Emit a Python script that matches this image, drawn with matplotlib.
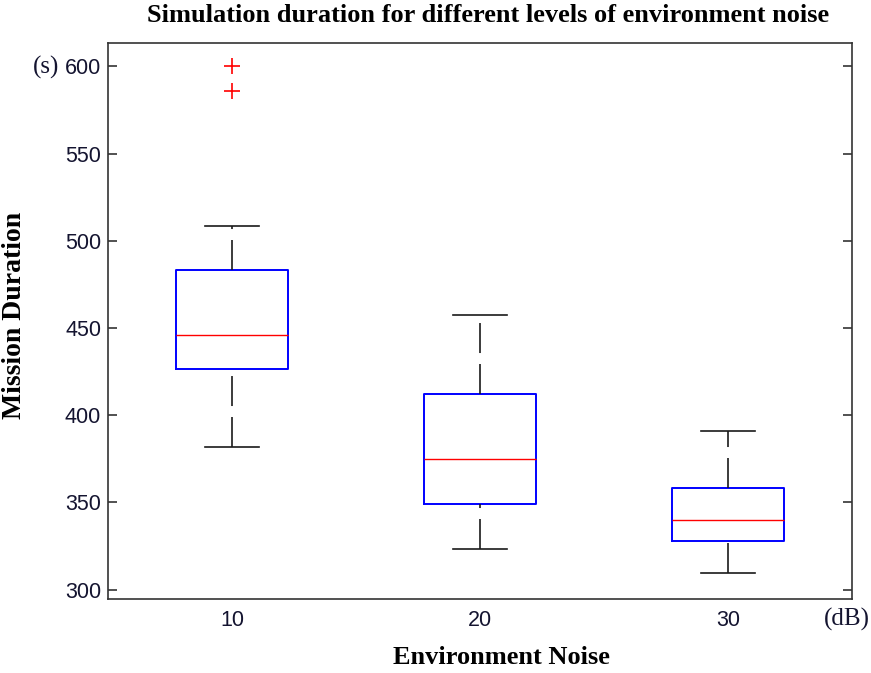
import matplotlib
matplotlib.use("Agg")
import matplotlib.pyplot as plt

# Noise levels (dB) and the per-level box statistics of mission duration (s)
noise_levels = ["10", "20", "30"]
q1 = [426.2, 348.8, 327.8]
medians = [445.7, 375.0, 339.8]
q3 = [483.1, 412.2, 358.2]
whisker_low = [381.8, 323.0, 309.3]
whisker_high = [508.3, 457.3, 390.8]
outliers = [[600.0, 585.7], [], []]

plt.rcParams["lines.scale_dashes"] = False
text_color = "#141430"
serif = ["Liberation Serif", "DejaVu Serif"]
sans = ["Liberation Sans", "DejaVu Sans"]

fig = plt.figure(figsize=(8.71, 6.73), dpi=100)
ax = fig.add_axes([108 / 871, 1 - 599 / 673, (852 - 108) / 871, (599 - 43) / 673])

stats = []
for i, name in enumerate(noise_levels):
    stats.append({
        "label": name,
        "q1": q1[i],
        "med": medians[i],
        "q3": q3[i],
        "whislo": whisker_low[i],
        "whishi": whisker_high[i],
        "fliers": outliers[i],
    })

bp = ax.bxp(
    stats,
    positions=[1, 2, 3],
    widths=0.45,
    capwidths=0.22,
    boxprops=dict(color="#0000ff", linewidth=1.4),
    medianprops=dict(color="#ff0000", linewidth=1.0),
    whiskerprops=dict(color="#1a1a1a", linewidth=1.2, linestyle=(0, (21.6, 7.9))),
    capprops=dict(color="#1a1a1a", linewidth=1.2),
    flierprops=dict(marker="+", markeredgecolor="#ff0000", markersize=11,
                    markeredgewidth=1.2, linestyle="none"),
)
# dash pattern runs upward from the lower end of each whisker
for w in bp["whiskers"][::2]:
    x, y = w.get_data()
    w.set_data(list(x)[::-1], list(y)[::-1])

ax.set_xlim(0.5, 3.5)
ax.set_ylim(294.6, 613.4)
ax.set_yticks([300, 350, 400, 450, 500, 550, 600])
ax.set_xticks([1, 2, 3])
ax.set_xticklabels(noise_levels)

for sp in ax.spines.values():
    sp.set_color("#333333")
    sp.set_linewidth(1.2)

ax.tick_params(axis="y", which="both", direction="in", length=6.5, width=1.2,
               color="#333333", left=True, right=True, labelsize=15.5,
               labelcolor=text_color, pad=5)
ax.tick_params(axis="x", length=0, labelsize=15.5, labelcolor=text_color, pad=8)
for lab in ax.get_xticklabels() + ax.get_yticklabels():
    lab.set_fontfamily(sans)

fig.text(488 / 871, 1 - 16 / 673,
         "Simulation duration for different levels of environment noise",
         ha="center", va="center", fontsize=19, fontweight="bold",
         family=serif, color="#000000")
fig.text(501 / 871, 1 - 658 / 673, "Environment Noise", ha="center", va="center",
         fontsize=19, fontweight="bold", family=serif, color="#000000")
fig.text(15 / 871, 1 - 315 / 673, "Mission Duration", ha="center", va="center",
         rotation=90, fontsize=20, fontweight="bold", family=serif, color="#000000")
fig.text(46 / 871, 1 - 67 / 673, "(s)", ha="center", va="center",
         fontsize=18, family=serif, color=text_color)
fig.text(847 / 871, 1 - 619 / 673, "(dB)", ha="center", va="center",
         fontsize=18, family=serif, color=text_color)

fig.savefig("out.png", dpi=100)
